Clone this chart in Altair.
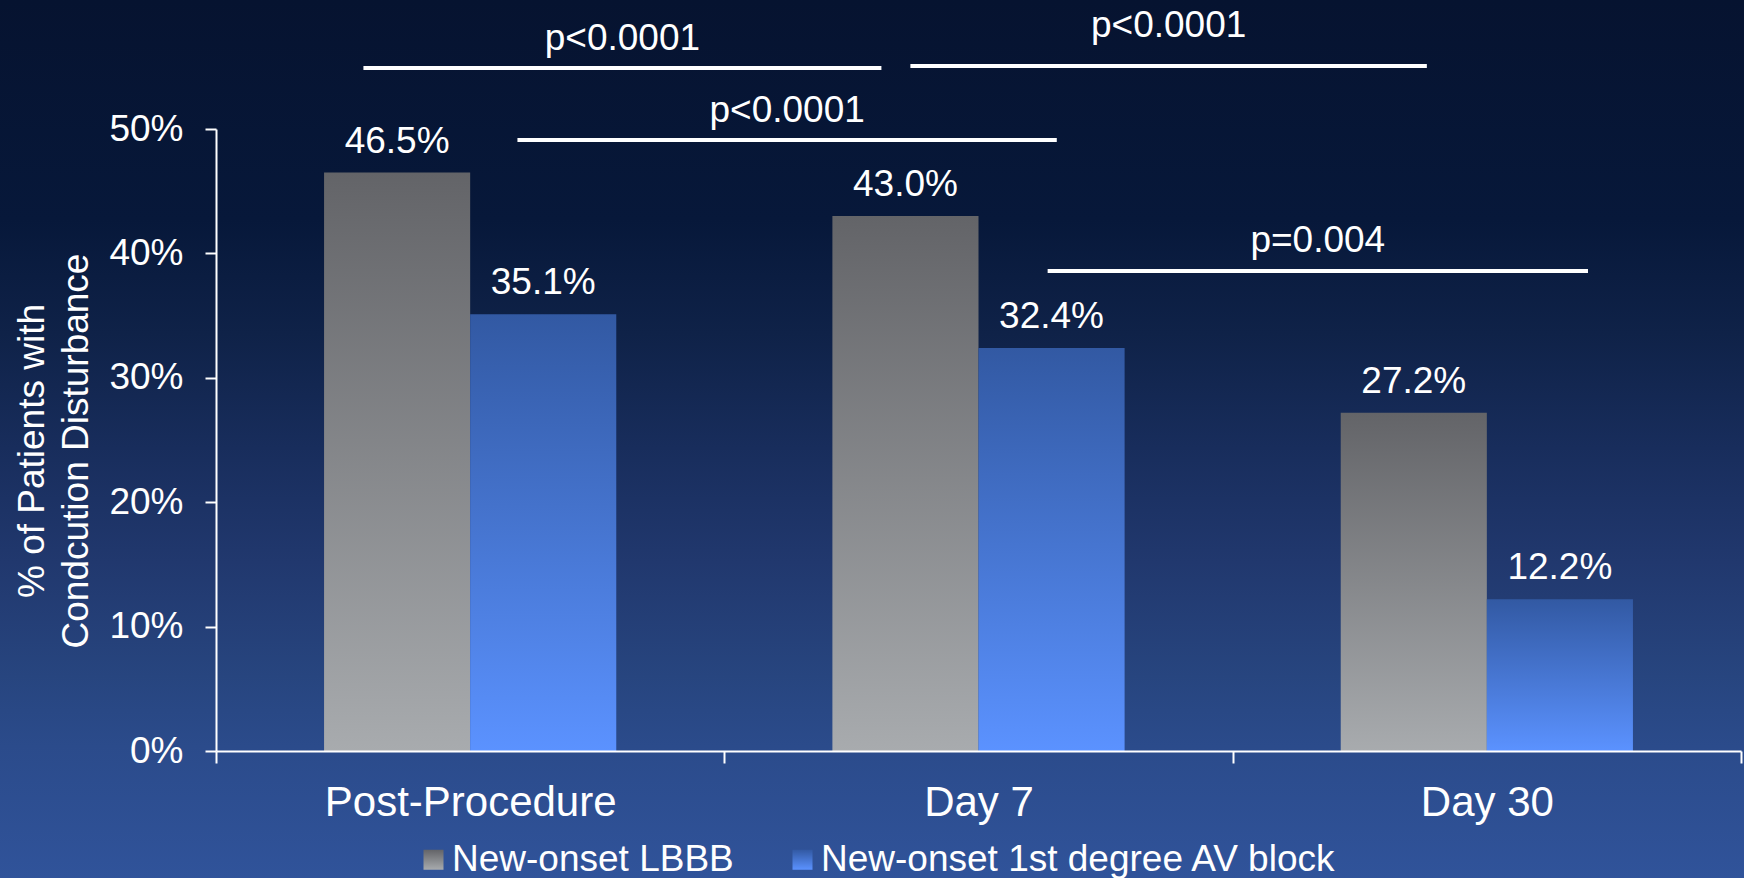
import altair as alt
import pandas as pd

# ---- data ---------------------------------------------------------------
categories = ["Post-Procedure", "Day 7", "Day 30"]
series = ["New-onset LBBB", "New-onset 1st degree AV block"]
lbbb_pct = [46.5, 43.0, 27.2]
av_block_pct = [35.1, 32.4, 12.2]

# significance brackets: span in category units (0..3), heights in %
p_values = ["p<0.0001", "p<0.0001", "p<0.0001", "p=0.004"]
bracket_start = [0.29, 1.366, 0.593, 1.636]
bracket_end = [1.309, 2.382, 1.654, 2.699]
bracket_level = [54.9, 55.06, 49.12, 38.59]
label_level = [56.35, 57.40, 50.56, 40.11]

# ---- layout / style -----------------------------------------------------
W, H = 1525, 622
PAD = {"left": 216, "top": 129, "right": 3, "bottom": 127}
FONT = "Liberation Sans"


def vgrad(top, bottom):
    """Vertical gradient (dark top -> light bottom) as a Vega expression."""
    return {"expr": "{gradient:'linear',x1:0,y1:0,x2:0,y2:1,stops:["
                    "{offset:0,color:'%s'},{offset:1,color:'%s'}]}" % (top, bottom)}


bars_df = pd.DataFrame({
    "category": categories * 2,
    "series": [series[0]] * len(categories) + [series[1]] * len(categories),
    "value": lbbb_pct + av_block_pct,
})
br_df = pd.DataFrame({
    "p": p_values,
    "start": bracket_start,
    "end": bracket_end,
    "level": bracket_level,
    "label_y": label_level,
})

x_scale = alt.Scale(domain=categories, paddingInner=0, paddingOuter=0)
off_scale = alt.Scale(domain=series, paddingInner=0, paddingOuter=0.7397)
y_scale = alt.Scale(domain=[0, 50])
q_scale = alt.Scale(domain=[0, 3], nice=False, zero=False)

x_axis = alt.Axis(
    title=None, labelAngle=0, labelFontSize=42, labelBaseline="alphabetic",
    labelPadding=52, labelLimit=800, tickBand="extent", tickSize=12, zindex=2,
)
# every layer carries the same y axis so the shared axis merges cleanly
y_axis = alt.Axis(
    values=[0, 10, 20, 30, 40, 50], labelExpr="datum.value + '%'",
    labelFontSize=37, labelPadding=22, tickSize=11, zindex=2,
    title=["% of Patients with", "Condcution Disturbance"],
    titleFontSize=37, titleLineHeight=44, titleAngle=-90,
    titleAlign="center", titleBaseline="alphabetic",
    titleX=-173, titleY=321.5,
)

background = alt.Chart(pd.DataFrame({"panel": [0]})).mark_rect(
    color=alt.LinearGradient(
        gradient="linear", x1=0, y1=0, x2=0, y2=1,
        stops=[
            alt.GradientStop(offset=0.0, color="#061330"),
            alt.GradientStop(offset=0.25, color="#07183a"),
            alt.GradientStop(offset=0.38, color="#0f2248"),
            alt.GradientStop(offset=0.51, color="#182d5c"),
            alt.GradientStop(offset=0.64, color="#21386e"),
            alt.GradientStop(offset=0.77, color="#27457f"),
            alt.GradientStop(offset=0.85, color="#2b4b8b"),
            alt.GradientStop(offset=1.0, color="#30539a"),
        ],
    )
).encode(
    x=alt.value(-PAD["left"]), x2=alt.value(W + PAD["right"]),
    y=alt.value(-PAD["top"]), y2=alt.value(H + PAD["bottom"]),
)

bars = alt.Chart(bars_df).mark_bar().encode(
    x=alt.X("category:N", sort=categories, scale=x_scale, axis=x_axis),
    xOffset=alt.XOffset("series:N", sort=series, scale=off_scale),
    y=alt.Y("value:Q", scale=y_scale, axis=y_axis),
    color=alt.Color(
        "series:N", sort=series,
        scale=alt.Scale(domain=series, range=[vgrad("#636468", "#a8abae"),
                                              vgrad("#3259a3", "#5b92ff")]),
        legend=alt.Legend(
            title=None, orient="none", legendX=199, legendY=712,
            direction="horizontal", symbolType="square", symbolSize=400,
            symbolStrokeWidth=0, symbolOpacity=1, labelFontSize=37,
            labelColor="white", labelFont=FONT, labelOffset=0,
            columnPadding=50, padding=0, labelLimit=1200,
        ),
    ),
)

bar_labels = alt.Chart(bars_df).transform_calculate(
    label="format(datum.value, '.1f') + '%'"
).mark_text(
    baseline="alphabetic", dy=-20, fontSize=37, font=FONT, color="white"
).encode(
    x=alt.X("category:N", sort=categories, scale=x_scale, axis=None),
    xOffset=alt.XOffset("series:N", sort=series, scale=off_scale),
    y=alt.Y("value:Q", scale=y_scale, axis=y_axis),
    text="label:N",
)

bracket_rules = alt.Chart(br_df).mark_rule(color="white", strokeWidth=4).encode(
    x=alt.X("start:Q", scale=q_scale, axis=None),
    x2="end:Q",
    y=alt.Y("level:Q", scale=y_scale, axis=y_axis),
)

bracket_text = alt.Chart(br_df).transform_calculate(
    mid="(datum.start + datum.end) / 2"
).mark_text(
    baseline="alphabetic", fontSize=37, font=FONT, color="white"
).encode(
    x=alt.X("mid:Q", scale=q_scale, axis=None),
    y=alt.Y("label_y:Q", scale=y_scale, axis=y_axis),
    text="p:N",
)

chart = alt.layer(
    background, bars, bar_labels, bracket_rules, bracket_text
).resolve_scale(x="independent").properties(
    width=W, height=H, padding=PAD,
    autosize=alt.AutoSizeParams(type="none"),
    background="#0b1a3d",
).configure_view(stroke=None).configure_axis(
    domainColor="white", domainWidth=2, tickColor="white", tickWidth=2,
    labelColor="white", labelFont=FONT, titleColor="white", titleFont=FONT,
    titleFontWeight="normal", grid=False, zindex=2,
)

chart.save("out.html", embed_options={"renderer": "svg", "actions": False})
